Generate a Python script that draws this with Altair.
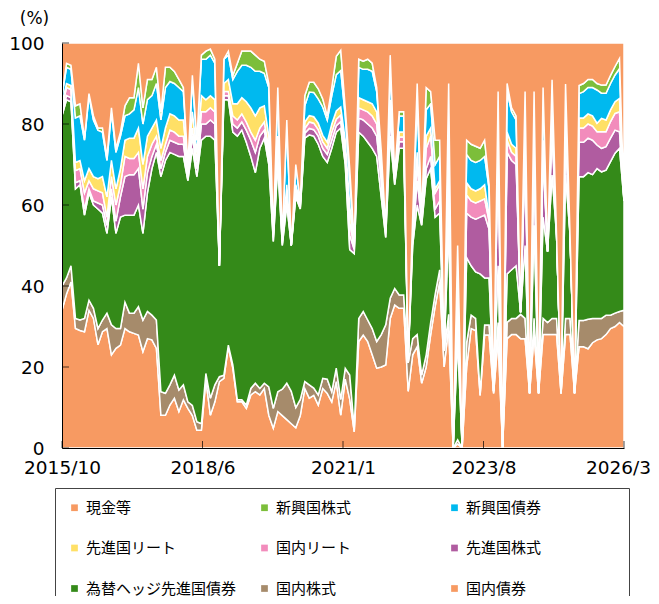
import altair as alt
import pandas as pd

# ---- categories -------------------------------------------------------------
series_names = ["国内債券", "国内株式", "為替ヘッジ先進国債券", "先進国株式", "国内リート",
                "先進国リート", "新興国債券", "新興国株式", "現金等"]
# legend is filled column by column: rows read 現金等/新興国株式/新興国債券 ...
legend_order = ["現金等", "先進国リート", "為替ヘッジ先進国債券",
                "新興国株式", "国内リート", "国内株式",
                "新興国債券", "先進国株式", "国内債券"]
series_colors = {
    "現金等": "#F79A62", "新興国株式": "#7CBE3A", "新興国債券": "#00B9EF",
    "先進国リート": "#FFE066", "国内リート": "#F28CBC", "先進国株式": "#B05CA0",
    "為替ヘッジ先進国債券": "#348A19", "国内株式": "#A68B6B", "国内債券": "#F79A62",
}
months = [d.strftime("%Y/%-m") for d in pd.date_range("2015-10-01", periods=126, freq="MS")]
x_tick_pos = [0, 31.25, 62.5, 93.75, 125]
x_tick_labels = ["2015/10", "2018/6", "2021/1", "2023/8", "2026/3"]
y_ticks = [0, 20, 40, 60, 80, 100]

# ---- series values (%) -------------------------------------------------------
domestic_bond = [
    34, 38, 41, 29.5, 29, 28.7, 34, 32, 25.5, 28.7,
    29.5, 23, 24.6, 25.4, 29.5, 28.7, 28.3, 27.9, 23.8, 27,
    26.7, 24.6, 8.1, 8.1, 10.6, 12.3, 9, 11.9, 9.8, 8,
    4.4, 4.4, 16.8, 8.1, 11.4, 16.4, 17.2, 25, 19.7, 11.4,
    11.4, 9.8, 13.1, 13.9, 13.1, 14.7, 8.1, 4.9, 9, 8,
    7, 6, 5, 8, 14.7, 12.3, 13, 10.6, 14.7, 13.5,
    11.4, 16.4, 8.1, 17, 12, 4, 26.3, 27.9, 26.3, 23,
    19.7, 20, 20.5, 32, 35.3, 34.5, 34.5, 14, 23, 25,
    16, 20, 28, 35, 41, 20, 30, 0, 1, 0,
    20, 29.5, 29, 13, 27.9, 27.9, 13.5, 27, 0, 27,
    28, 28, 27, 27, 13.5, 28, 13.5, 28, 28, 28,
    28, 13.5, 28, 28, 13.5, 25, 25, 24.5, 26, 26.7,
    27, 28, 29.5, 30, 31, 30]
domestic_equity = [
    6, 4, 4, 2.5, 2.6, 3.3, 2.5, 2.5, 4, 2.9,
    3.8, 7.4, 4.9, 4.1, 6.5, 4.6, 5, 7, 7.8, 6.7,
    6.1, 7, 5.8, 5.4, 5, 5.7, 5.3, 3.7, 1.6, 2.5,
    2.1, 1.6, 1.6, 4.2, 4.2, 1.2, 0.8, 0.4, 0.8, 0.5,
    0.5, 0.8, 1.6, 2.1, 1.6, 1.3, 7, 4.9, 4.9, 6.5,
    9, 8, 5, 4, 1.7, 3.3, 1.8, 2.5, 2.5, 3.5,
    2.5, 3.3, 3.9, 2.7, 6, 1, 5.7, 5.8, 5.3, 6.5,
    6.6, 8, 9.9, 5, 4.1, 3.3, 3.3, 7, 4, 3,
    2, 3, 3, 3, 3, 4, 3, 0, 1, 0,
    6, 3.3, 3, 0.5, 2.5, 2.5, 0.5, 4, 0, 4,
    4, 4, 6, 5, 0, 4, 0, 4, 3, 4,
    4, 0, 4, 4, 0, 6.5, 6.5, 7.3, 6, 5.3,
    5, 4.8, 3.3, 3.3, 2.7, 4]
hedged_foreign_bond = [
    42, 44, 40.5, 32, 33.4, 25.5, 26.5, 25.5, 29.5, 26.4,
    19.7, 31.6, 23.5, 27.5, 21.5, 24.2, 24.2, 25.1, 21.4, 29.3,
    36.2, 41.4, 53.1, 57.5, 57.4, 54.5, 57.7, 56.4, 54.6, 63.5,
    60.5, 70, 58.6, 64.7, 60.4, 27.4, 68, 60.6, 57.5, 65.1,
    66.6, 64.9, 57.3, 52, 59.3, 60.5, 54.9, 41.2, 56.1, 35.5,
    44, 36, 52, 47, 60.1, 61.7, 62.2, 61.9, 54.8, 53.5,
    60.1, 58.3, 67, 50.3, 31, 43, 46, 43.3, 43.9, 44.5,
    45.7, 34, 21.6, 40, 25.6, 36.2, 36.2, 1, 23, 32,
    37, 43.5, 38, 19, 14, 0, 22, 0, 25, 0,
    21, 12.2, 11.5, 29.5, 11.6, 11.6, 0, 14, 0, 12,
    12, 13, 0.5, 18, 0, 23, 0, 25, 17.5, 35.4,
    20.6, 0, 35.4, 20.6, 0, 35.5, 35.5, 36.2, 35.5, 37,
    36.2, 35.8, 37.9, 39.5, 40.3, 27]
foreign_equity = [
    1, 1, 1, 1.5, 1, 1.5, 1, 1, 1.5, 2,
    2, 2, 3, 5, 9.5, 10, 10, 9, 6, 5,
    3, 2, 2, 2, 3, 3, 3, 3, 1, 3,
    2, 4, 3, 4, 4, 0, 1, 1, 2, 2,
    2, 3, 4, 5, 3, 2, 2, 1, 2, 0.5,
    2, 0, 1, 0.5, 1.2, 1.6, 1.6, 2, 2, 2,
    2, 1.6, 1.6, 2, 3.5, 1, 3.5, 4, 4.5, 5,
    5, 4, 1, 5, 1, 1.6, 1.6, 0, 2, 6,
    1, 2.5, 3, 2, 3, 0, 8, 0, 6, 0,
    11, 12, 13, 14, 15.5, 12, 0, 28, 0, 30,
    27, 25, 0, 22, 0, 18, 0, 15, 0, 10.7,
    0, 0, 9.8, 0, 0, 8.5, 8.5, 8.5, 8.5, 5.8,
    5.8, 5.8, 5.8, 5.7, 4.1, 0]
domestic_reit = [
    1, 2, 2, 3, 3, 4, 2, 3, 3, 3,
    2, 3, 4, 3, 5, 4, 4, 4, 5, 4,
    3, 2, 2, 2, 2.5, 2.5, 2, 2, 1, 2,
    2, 3, 3, 3, 3, 0, 1, 1, 2, 2,
    2, 2, 2, 3, 2, 2, 2, 0.5, 2, 0.5,
    1, 0, 1, 0.5, 1.2, 1.6, 1.6, 1.6, 1.6, 1.5,
    2, 1.6, 1.6, 2, 3.3, 0.5, 2.5, 2.5, 3, 3,
    3, 2, 0.5, 2, 0.5, 1.2, 1.2, 0, 2, 4,
    0.5, 5, 5, 4, 4, 0, 5, 0, 4, 0,
    4.5, 4, 4, 4, 4, 2, 0, 3, 0, 3,
    2, 2, 0, 2, 0, 2, 0, 2, 0, 2.5,
    0, 0, 1.6, 0, 0, 3.5, 3.5, 3.5, 3.5, 3.3,
    4.1, 3.7, 4.1, 4.1, 4.9, 0]
foreign_reit = [
    1, 1, 1, 2, 2, 3, 3, 3, 3, 4,
    5, 4, 4, 4, 4, 5, 5, 6, 6, 5,
    4, 4, 3, 4, 4, 4, 4, 4, 1, 4,
    2, 4, 3, 3, 3, 0, 2, 3, 3, 4,
    4, 5, 6, 6, 5, 4, 3, 0.5, 3, 0.5,
    2, 0, 1, 0.5, 1.6, 1.6, 1.6, 1.6, 1.6, 1.5,
    2, 2, 2, 2, 4, 0.5, 2.5, 2.5, 2.5, 3,
    3, 2, 0.5, 2, 0.5, 1.2, 1.2, 0, 1, 3,
    0.5, 3, 2, 1, 1, 0, 3, 0, 2, 0,
    3, 3, 3, 3, 3.5, 1, 0, 2, 0, 2,
    2, 2, 0, 2, 0, 2, 0, 2, 0, 1.6,
    0, 0, 1.6, 0, 0, 2.5, 2.5, 2.5, 2.5, 2.1,
    3.3, 2.9, 2.9, 2.9, 3.3, 0]
em_bond = [
    2, 4, 4, 11, 11, 10, 18, 14, 12, 11,
    9, 12, 9, 8, 6, 6, 7, 10, 10, 9,
    8, 9, 7, 10, 8, 8, 8, 7, 1, 8,
    3, 9, 10, 10, 9, 0, 6, 6, 6, 8,
    8, 9, 10, 11, 9, 8, 12, 0.5, 11, 0.5,
    15, 0, 5, 0.5, 4, 5.8, 6, 6, 7, 5.5,
    7, 9, 9, 6, 6.6, 1, 7.5, 7.5, 8, 8,
    5, 3, 0.5, 8, 0.5, 4, 4, 0, 2, 12,
    0.5, 6.5, 6, 6, 6, 0, 12, 0, 8, 0,
    7, 7, 7, 7, 7, 7, 0, 8, 0, 10,
    8, 7, 0, 10, 0, 10, 0, 12, 0, 8.2,
    0, 0, 9, 0, 0, 6, 6.5, 6.5, 7, 8.2,
    6.2, 6.6, 6.5, 6.6, 7.4, 0]
em_equity = [
    0, 1, 1, 3, 3, 0.5, 0.5, 1, 0.5, 1,
    1, 1, 1, 1, 2.5, 4, 3, 6, 4, 5,
    4, 4, 2, 5, 3.5, 3, 2, 1, 0, 1,
    0, 1, 2, 1.5, 1, 0, 0, 1, 1, 2,
    3.5, 3.5, 4, 4, 3, 3, 1, 0, 1, 0,
    1, 0, 0, 0, 2.5, 2.4, 2.5, 2.5, 2, 1,
    2, 4.5, 5, 2, 2.5, 0, 2, 2, 2.5, 2,
    1, 0.5, 0, 3, 0, 1, 1, 0, 0, 5,
    0, 5.5, 3, 6, 4, 0, 7, 0, 3, 0,
    3.5, 4, 4, 3, 4, 1, 0, 2, 0, 2,
    1, 1, 0, 2, 0, 1, 0, 1, 0, 0.5,
    0, 0, 0.5, 0, 0, 2, 2, 2, 2, 1.6,
    2, 2, 2, 2.1, 2.5, 0]
cash = [
    13, 5, 5.5, 15.5, 15, 23.5, 12.5, 18, 21, 21,
    28, 16, 26, 22, 15.5, 13.5, 13.5, 5, 16, 9,
    9, 6, 17, 6, 6, 7, 9, 11, 30, 8,
    24, 3, 2, 1.5, 4, 55, 4, 2, 8, 5,
    2, 2, 2, 3, 4, 4.5, 10, 46.5, 11, 48,
    19, 50, 30, 39, 13, 9.7, 9.7, 11.3, 13.8, 18,
    11, 3.3, 1.8, 16, 31.1, 49, 4, 4.5, 4, 5,
    11, 26.5, 45.5, 3, 32.5, 17, 17, 78, 43, 10,
    42.5, 11, 12, 24, 24, 76, 10, 100, 50, 100,
    24, 25, 25.5, 26, 24, 35, 86, 12, 100, 10,
    16, 18, 66.5, 12, 86.5, 12, 86.5, 11, 51.5, 9.1,
    47.4, 86.5, 10.1, 47.4, 86.5, 10.5, 10, 9, 9, 10,
    10.4, 10.4, 8, 5.8, 3.8, 39]

series_values = {
    "国内債券": domestic_bond, "国内株式": domestic_equity,
    "為替ヘッジ先進国債券": hedged_foreign_bond, "先進国株式": foreign_equity,
    "国内リート": domestic_reit, "先進国リート": foreign_reit,
    "新興国債券": em_bond, "新興国株式": em_equity, "現金等": cash,
}

rows = []
for k, name in enumerate(series_names):
    vals = series_values[name]
    assert len(vals) == len(months), (name, len(vals))
    for i, v in enumerate(vals):
        rows.append({"idx": i, "month": months[i], "series": name, "value": v, "order": k})
df = pd.DataFrame(rows)

label_expr = " : ".join(
    f"datum.value == {p} ? '{t}'" for p, t in zip(x_tick_pos, x_tick_labels)) + " : ''"
# pad the last legend column with blank full-width space (kept from trimming by a
# zero-width character) to the width of the longest label, so the frame spans the plot
legend_label_expr = ("datum.label == '新興国債券' ? datum.label + '"
                     + "\u3000" * 5 + "\u200b' : datum.label")

x_scale = alt.Scale(domain=[0, 125], nice=False, zero=False)
y_scale = alt.Scale(domain=[0, 100], nice=False)
AX_FONT = "DejaVu Sans"

area = alt.Chart(df).mark_area(stroke="white", strokeWidth=1.5, interpolate="linear").encode(
    x=alt.X("idx:Q", scale=x_scale, title="",
            axis=alt.Axis(values=x_tick_pos, labelExpr=label_expr, ticks=False, grid=False,
                          domainColor="black", domainWidth=1, labelFont=AX_FONT,
                          labelFontSize=18.5, labelColor="black", labelPadding=10.5,
                          labelOffset={"condition": {"test": "datum.value == 125", "value": -6},
                                       "value": 0},
                          labelOverlap=False, labelFlush=False, zindex=1)),
    y=alt.Y("value:Q", stack="zero", scale=y_scale,
            axis=alt.Axis(values=y_ticks, ticks=False, grid=False, domainColor="black",
                          domainWidth=1, labelFont=AX_FONT, labelFontSize=18.5,
                          labelColor="black", labelPadding=18, title="(%)", titleAngle=0,
                          titleX=-28, titleY=-25, titleAlign="center",
                          titleBaseline="middle", titleFont=AX_FONT, titleFontSize=17,
                          titleFontWeight="normal", titleColor="black", zindex=1)),
    color=alt.Color("series:N",
                    scale=alt.Scale(domain=legend_order,
                                    range=[series_colors[s] for s in legend_order]),
                    legend=alt.Legend(title=None, orient="none", legendX=-7, legendY=445,
                                      columns=3, gridAlign="all", symbolType="square",
                                      symbolSize=45, symbolStrokeWidth=0,
                                      labelFont="Noto Sans CJK JP", labelFontSize=15,
                                      labelColor="black", labelLimit=300, labelOffset=4,
                                      labelExpr=legend_label_expr,
                                      rowPadding=24.5, columnPadding=20, padding=12,
                                      strokeColor="#444444", fillColor="white")),
    order=alt.Order("order:Q", sort="ascending"),
)

x_ticks = alt.Chart(pd.DataFrame({"idx": x_tick_pos})).mark_tick(
    orient="vertical", size=7, thickness=1, color="black", yOffset=-3.5
).encode(x=alt.X("idx:Q", scale=x_scale), y=alt.datum(0))

y_tick_marks = alt.Chart(pd.DataFrame({"value": y_ticks})).mark_tick(
    orient="horizontal", size=7, thickness=1, color="black", xOffset=3.5
).encode(y=alt.Y("value:Q", scale=y_scale), x=alt.datum(0))

chart = alt.layer(area, x_ticks, y_tick_marks).properties(
    width=562, height=405,
    autosize=alt.AutoSizeParams(type="none"),
    padding={"left": 54, "top": 35, "right": 27, "bottom": 148},
    background="white",
).configure_view(strokeWidth=0)

chart.save("out.html", embed_options={"renderer": "svg", "actions": False})
